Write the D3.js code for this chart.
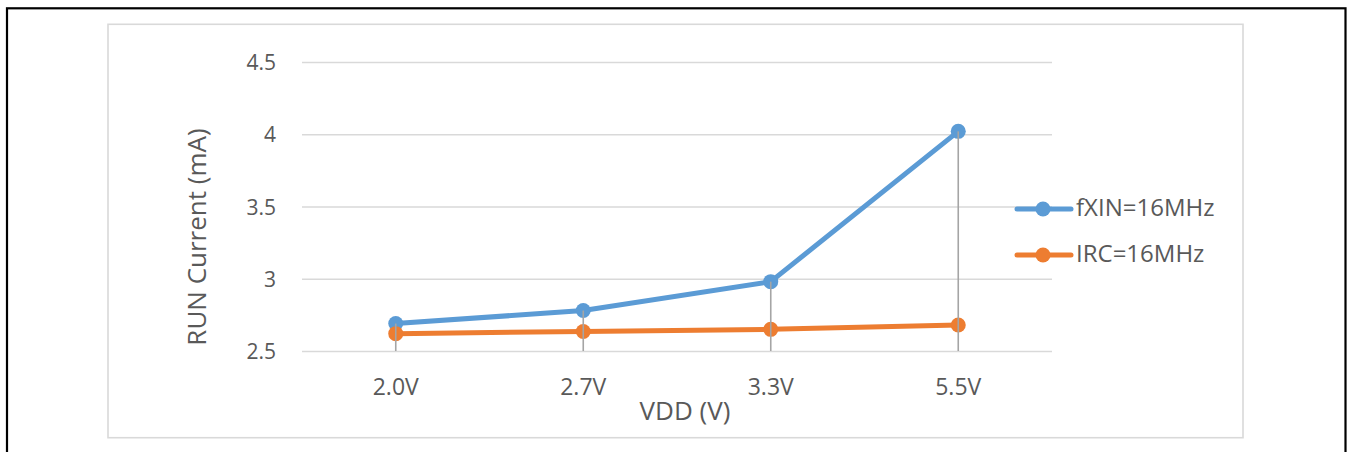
<!DOCTYPE html>
<html>
<head>
<meta charset="utf-8">
<script src="https://cdn.jsdelivr.net/npm/d3@7"></script>
<style>
  html, body { margin: 0; padding: 0; background: #fff; }
  svg { display: block; }
  svg text { font-family: "Open Sans", "Noto Sans", sans-serif; }
</style>
</head>
<body>
<svg id="chart" width="1349" height="452"></svg>
<script>
// Supply voltages on the x axis
const categories = ["2.0V", "2.7V", "3.3V", "5.5V"];
// Run current in mA for each clock source
const fxinValues = [2.69, 2.78, 2.98, 4.02];
const ircValues = [2.62, 2.635, 2.65, 2.68];
const seriesNames = ["fXIN=16MHz", "IRC=16MHz"];
const seriesColors = ["#5b9bd5", "#ed7d31"];
const yTicks = [2.5, 3, 3.5, 4, 4.5];
const yTickLabels = ["2.5", "3", "3.5", "4", "4.5"];

const series = [
  { name: seriesNames[0], values: fxinValues, color: seriesColors[0] },
  { name: seriesNames[1], values: ircValues, color: seriesColors[1] }
];

const svg = d3.select("#chart");
const textColor = "#595959";
const fontFamily = '"Open Sans", "Noto Sans", sans-serif';

// Outer frame
svg.append("rect")
  .attr("x", 7).attr("y", 8.3)
  .attr("width", 1338.5).attr("height", 460)
  .attr("fill", "none").attr("stroke", "#000").attr("stroke-width", 2.2);

// Chart area border
svg.append("rect")
  .attr("x", 108).attr("y", 24.3)
  .attr("width", 1135).attr("height", 413.4)
  .attr("fill", "#fff").attr("stroke", "#d9d9d9").attr("stroke-width", 1.6);

const plot = { left: 302, right: 1052, top: 62, bottom: 351 };

const x = d3.scaleBand().domain(categories).range([plot.left, plot.right]);
const y = d3.scaleLinear().domain([2.5, 4.5]).range([plot.bottom, plot.top]);
const cx = d => x(d) + x.bandwidth() / 2;

// Horizontal gridlines and value labels
const yAxis = d3.axisLeft(y)
  .tickValues(yTicks)
  .tickSize(-(plot.right - plot.left))
  .tickPadding(26)
  .tickFormat((d, i) => yTickLabels[i]);

const gy = svg.append("g")
  .attr("transform", `translate(${plot.left},0)`)
  .call(yAxis)
  .attr("font-family", fontFamily);
gy.select(".domain").remove();
gy.selectAll(".tick line").attr("stroke", "#d9d9d9").attr("stroke-width", 1.6);
gy.selectAll(".tick text")
  .attr("fill", textColor)
  .attr("font-size", 21)
  .attr("dy", "0.36em");

// Category labels
const xAxis = d3.axisBottom(x).tickSize(0).tickPadding(0);
const gx = svg.append("g")
  .attr("transform", `translate(0,${plot.bottom})`)
  .call(xAxis)
  .attr("font-family", fontFamily);
gx.select(".domain").remove();
gx.selectAll(".tick text")
  .attr("fill", textColor)
  .attr("font-size", 23)
  .attr("y", 44)
  .attr("dy", 0);

// Axis titles
svg.append("text")
  .attr("x", 685)
  .attr("y", 420)
  .attr("text-anchor", "middle")
  .attr("fill", textColor)
  .attr("font-size", 26)
  .text("VDD (V)");

svg.append("text")
  .attr("transform", `translate(206,237) rotate(-90)`)
  .attr("text-anchor", "middle")
  .attr("fill", textColor)
  .attr("font-size", 26)
  .text("RUN Current (mA)");

// Series lines and markers
const line = d3.line()
  .x((d, i) => cx(categories[i]))
  .y(d => y(d));

series.forEach(s => {
  svg.append("path")
    .datum(s.values)
    .attr("d", line)
    .attr("fill", "none")
    .attr("stroke", s.color)
    .attr("stroke-width", 5)
    .attr("stroke-linejoin", "round")
    .attr("stroke-linecap", "round");
  svg.append("g").selectAll("circle")
    .data(s.values)
    .join("circle")
    .attr("cx", (d, i) => cx(categories[i]))
    .attr("cy", d => y(d))
    .attr("r", 7.5)
    .attr("fill", s.color);
});

// Drop lines from the highest point of each category to the axis
svg.append("g").selectAll("line")
  .data(categories)
  .join("line")
  .attr("x1", d => cx(d))
  .attr("x2", d => cx(d))
  .attr("y1", (d, i) => y(d3.max(series, s => s.values[i])))
  .attr("y2", plot.bottom)
  .attr("stroke", "#a5a5a5")
  .attr("stroke-width", 1.6);

// Legend
const legend = svg.append("g");
const legendY = [209, 255];
series.forEach((s, i) => {
  const g = legend.append("g").attr("transform", `translate(0,${legendY[i]})`);
  g.append("line")
    .attr("x1", 1017).attr("x2", 1071)
    .attr("stroke", s.color).attr("stroke-width", 5)
    .attr("stroke-linecap", "round");
  g.append("circle").attr("cx", 1043).attr("cy", 0).attr("r", 7.5).attr("fill", s.color);
  g.append("text")
    .attr("x", 1076).attr("y", 7)
    .attr("fill", textColor)
    .attr("font-size", 24)
    .text(s.name);
});
</script>
</body>
</html>
